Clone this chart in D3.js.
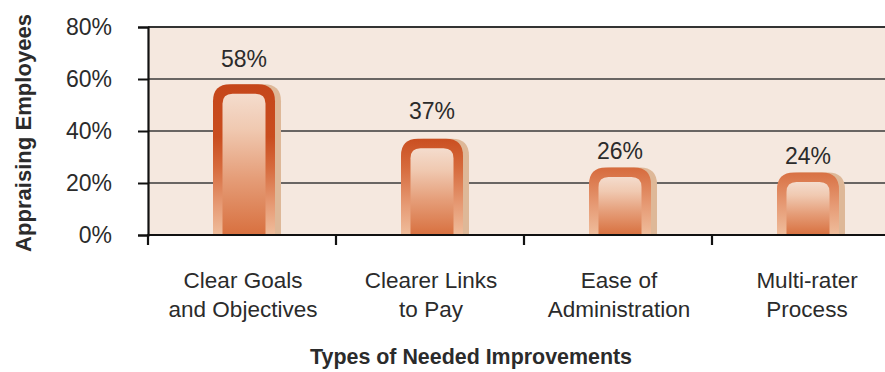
<!DOCTYPE html>
<html>
<head>
<meta charset="utf-8">
<script src="https://cdn.jsdelivr.net/npm/d3@7/dist/d3.min.js"></script>
<style>
  html, body { margin: 0; padding: 0; background: #fff; }
  svg { display: block; }
  text { font-family: "Liberation Sans", Arial, sans-serif; fill: #2b2b2b; }
</style>
</head>
<body>
<svg id="chart" width="885" height="372"></svg>
<script>
const categories = [["Clear Goals", "and Objectives"], ["Clearer Links", "to Pay"], ["Ease of", "Administration"], ["Multi-rater", "Process"]];
const values = [58, 37, 26, 24];
const yTicks = [0, 20, 40, 60, 80];
const xTitle = "Types of Needed Improvements";
const yTitle = "Appraising Employees";

const svg = d3.select("#chart");
const W = 885, H = 372;
const mLeft = 148, mRight = 900, mTop = 27, mBottom = 235;
// gap (px) between each value label baseline and its bar top, as in the original layout
const labelGaps = [17, 20, 8, 9];

const x = d3.scaleBand().domain(d3.range(categories.length)).range([mLeft, mRight]).padding(0);
const y = d3.scaleLinear().domain([0, 80]).range([mBottom, mTop]);

const defs = svg.append("defs");
// frame gradient (absolute coordinates)
const fg = defs.append("linearGradient").attr("id", "frameGrad")
  .attr("gradientUnits", "userSpaceOnUse").attr("x1", 0).attr("x2", 0)
  .attr("y1", y(58)).attr("y2", y(0));
[[0, "#c5461a"], [0.35, "#c94d1f"], [0.55, "#d66a3c"], [0.8, "#e69a74"], [1, "#efbd9c"]]
  .forEach(([o, c]) => fg.append("stop").attr("offset", o).attr("stop-color", c));
// inner gradient (relative)
const ig = defs.append("linearGradient").attr("id", "innerGrad")
  .attr("x1", 0).attr("x2", 0).attr("y1", 0).attr("y2", 1);
[[0, "#f4dccd"], [0.25, "#f0c9b1"], [0.6, "#e59d78"], [1, "#d8703f"]]
  .forEach(([o, c]) => ig.append("stop").attr("offset", o).attr("stop-color", c));

// plot background
svg.append("rect").attr("x", mLeft).attr("y", mTop).attr("width", W - mLeft).attr("height", mBottom - mTop)
  .attr("fill", "#f5e8df");

// gridlines
svg.append("g").selectAll("line").data(yTicks.filter(d => d > 0 && d < 80)).join("line")
  .attr("x1", mLeft).attr("x2", W).attr("y1", d => y(d)).attr("y2", d => y(d))
  .attr("stroke", "#3a3a3a").attr("stroke-width", 1.3);
// top border
svg.append("line").attr("x1", mLeft).attr("x2", W).attr("y1", y(80)).attr("y2", y(80))
  .attr("stroke", "#333").attr("stroke-width", 2);

const barW = 62, frame = 9.5, rOuter = 17, rInner = 10, shadowDx = 6;
const barX = i => x(i) + x.bandwidth() / 2 + 2 - barW / 2;

function roundTop(x0, y0, w, h, r) {
  r = Math.min(r, h, w / 2);
  return `M${x0},${y0 + h} V${y0 + r} Q${x0},${y0} ${x0 + r},${y0} H${x0 + w - r} Q${x0 + w},${y0} ${x0 + w},${y0 + r} V${y0 + h} Z`;
}
const bars = svg.append("g");
// shadow
bars.selectAll(".shadow").data(values).join("path").attr("class", "shadow")
  .attr("d", (d, i) => roundTop(barX(i) + shadowDx, y(d), barW, y(0) - y(d), rOuter))
  .attr("fill", "#deb898");
// outer frame
bars.selectAll(".outer").data(values).join("path").attr("class", "outer")
  .attr("d", (d, i) => roundTop(barX(i), y(d), barW, y(0) - y(d), rOuter))
  .attr("fill", "url(#frameGrad)");
// inner
bars.selectAll(".inner").data(values).join("path").attr("class", "inner")
  .attr("d", (d, i) => roundTop(barX(i) + frame, y(d) + frame, barW - 2 * frame, y(0) - y(d) - frame, rInner))
  .attr("fill", "url(#innerGrad)");

// value labels
svg.append("g").selectAll("text").data(values).join("text")
  .attr("x", (d, i) => x(i) + x.bandwidth() / 2 + 2)
  .attr("y", (d, i) => y(d) - labelGaps[i])
  .attr("text-anchor", "middle")
  .attr("font-size", 23)
  .text(d => d + "%");

// y axis
const yAxis = svg.append("g").attr("transform", `translate(${mLeft},0)`)
  .call(d3.axisLeft(y).tickValues(yTicks).tickFormat(d => d + "%").tickSize(10).tickPadding(26));
yAxis.select(".domain").attr("stroke", "#111").attr("stroke-width", 2.2);
yAxis.selectAll(".tick line").attr("stroke", "#111").attr("stroke-width", 2);
yAxis.selectAll(".tick text").attr("font-size", 23).attr("fill", "#2b2b2b")
  .style("font-family", "Liberation Sans, Arial, sans-serif");

// x axis
const xTickScale = d3.scaleLinear().domain([0, categories.length]).range([mLeft, mRight]);
const xAxis = svg.append("g").attr("transform", `translate(0,${mBottom})`);
xAxis.append("line").attr("x1", mLeft - 1).attr("x2", W).attr("y1", 0).attr("y2", 0)
  .attr("stroke", "#111").attr("stroke-width", 2.2);
xAxis.selectAll(".xt").data(d3.range(categories.length + 1)).join("line").attr("class", "xt")
  .attr("x1", d => xTickScale(d)).attr("x2", d => xTickScale(d)).attr("y1", 0).attr("y2", 10)
  .attr("stroke", "#111").attr("stroke-width", 2.2);

// category labels
const cl = svg.append("g").selectAll("text").data(categories).join("text")
  .attr("text-anchor", "middle").attr("font-size", 22.5)
  .attr("transform", (d, i) => `translate(${x(i) + x.bandwidth() / 2 + 1},288)`);
cl.selectAll("tspan").data(d => d).join("tspan")
  .attr("x", 0).attr("y", (d, j) => j * 29).text(d => d);

// axis titles
svg.append("text").attr("x", 471).attr("y", 364).attr("text-anchor", "middle")
  .attr("font-size", 21.5).attr("font-weight", "bold").attr("fill", "#1a1a1a")
  .attr("textLength", 322).attr("lengthAdjust", "spacingAndGlyphs")
  .text(xTitle);
svg.append("text").attr("transform", "translate(31,133) rotate(-90)").attr("text-anchor", "middle")
  .attr("font-size", 21.5).attr("font-weight", "bold").attr("fill", "#1a1a1a")
  .attr("textLength", 238).attr("lengthAdjust", "spacingAndGlyphs")
  .text(yTitle);
</script>
</body>
</html>
